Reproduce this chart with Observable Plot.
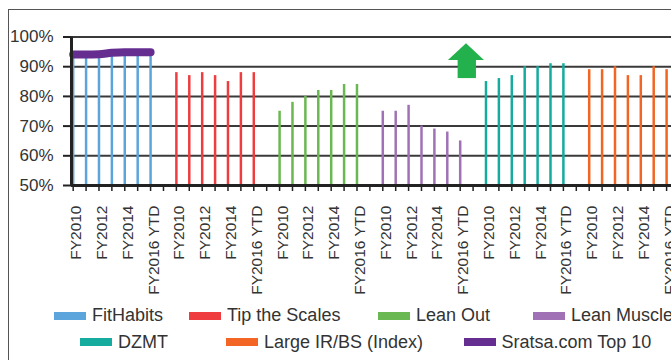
<!DOCTYPE html>
<html>
<head>
<meta charset="utf-8">
<script src="https://cdn.jsdelivr.net/npm/d3@7"></script>
<script src="https://cdn.jsdelivr.net/npm/@observablehq/plot@0.6"></script>
<style>
  html, body { margin: 0; padding: 0; background: #fff; overflow: hidden; }
  body { width: 671px; height: 360px; position: relative; font-family: "Liberation Sans", Arial, sans-serif; }
  #frame { position: absolute; left: 8px; top: 9px; width: 800px; height: 400px;
           border-left: 1.5px solid #555; border-top: 1.5px solid #555; }
  #chart { position: absolute; left: 0; top: 0; }
  .leg { position: absolute; display: flex; align-items: center; font-size: 18px; color: #333; white-space: nowrap; }
  .sw { width: 32px; height: 8px; margin-right: 6px; }
</style>
</head>
<body>
<div id="frame"></div>
<div id="chart"></div>
<div id="legend"></div>
<script>
const years = ["FY2010", "FY2011", "FY2012", "FY2013", "FY2014", "FY2015", "FY2016 YTD"];
const seriesNames = ["FitHabits", "Tip the Scales", "Lean Out", "Lean Muscle", "DZMT", "Large IR/BS (Index)"];
const lineName = "Sratsa.com Top 10";

const fitHabits    = [93, 93, 93, 94, 94, 94, 94];
const tipTheScales = [88, 87, 88, 87, 85, 88, 88];
const leanOut      = [75, 78, 80, 82, 82, 84, 84];
const leanMuscle   = [75, 75, 77, 70, 69, 68, 65];
const dzmt         = [85, 86, 87, 90, 90, 91, 91];
const largeIRBS    = [89, 89, 90, 87, 87, 90, 89];
const sratsaTop10  = [94.1, 94.1, 94.2, 94.7, 94.9, 94.9, 94.9];

const yTicks = [50, 60, 70, 80, 90, 100];

const seriesColors = ["#5ba5dc", "#ef3d3f", "#6ab851", "#a072b5", "#15ac9f", "#f26524"];
const lineColor = "#662d91";
const arrowColor = "#22b14c";

// arrow annotation (in data units: slot index, percent)
const arrowHead = [
  {x: 29.09, y1: 92.1, y2: 92.1},
  {x: 30.49, y1: 92.1, y2: 97.7},
  {x: 31.88, y1: 92.1, y2: 92.1}
];
const arrowStem = [{x1: 29.84, x2: 31.26, y1: 86.0, y2: 92.2}];

const allSeries = [fitHabits, tipTheScales, leanOut, leanMuscle, dzmt, largeIRBS];
const slotsPerGroup = years.length + 1;
const bars = [];
allSeries.forEach((vals, g) => {
  vals.forEach((v, i) => bars.push({series: seriesNames[g], x: g * slotsPerGroup + i, value: v}));
});
const lineData = sratsaTop10.map((v, i) => ({x: i, y: v}));
const tickIdx = d3.range(0, seriesNames.length * slotsPerGroup - 1);
const tickLabel = (d) => {
  const i = d % slotsPerGroup;
  return (i < years.length && i % 2 === 0) ? years[i] : "";
};

const xLo = -0.13, xHi = 46.38;

const chart = Plot.plot({
  width: 671,
  height: 300,
  marginLeft: 71,
  marginRight: 0,
  marginTop: 36.5,
  marginBottom: 115,
  style: {fontFamily: "'Liberation Sans', Arial, sans-serif", background: "transparent", overflow: "visible", color: "#333"},
  x: {type: "linear", domain: [xLo, xHi]},
  y: {domain: [50, 100]},
  color: {domain: seriesNames, range: seriesColors},
  marks: [
    Plot.ruleY(yTicks.slice(1), {stroke: "#3a3a3a", strokeWidth: 2}),
    Plot.ruleX(bars, {x: "x", y1: 50, y2: "value", stroke: "series", strokeWidth: 2.5}),
    Plot.line(lineData, {x: "x", y: "y", stroke: lineColor, strokeWidth: 8, strokeLinecap: "round", strokeLinejoin: "round", curve: "monotone-x"}),
    Plot.rect(arrowStem, {x1: "x1", x2: "x2", y1: "y1", y2: "y2", fill: arrowColor}),
    Plot.areaY(arrowHead, {x: "x", y1: "y1", y2: "y2", fill: arrowColor}),
    Plot.axisY({ticks: yTicks, tickFormat: d => d + "%", tickSize: 8, tickPadding: 10, fontSize: 17, stroke: "#222", strokeWidth: 2, fill: "#333"}),
    Plot.axisX({ticks: tickIdx, tickFormat: tickLabel, tickSize: 6, tickPadding: 14, tickRotate: -90, fontSize: 15.5, stroke: "#222", strokeWidth: 1.5, fill: "#333"}),
    Plot.ruleX([xLo], {stroke: "#222", strokeWidth: 3}),
    Plot.ruleY([50], {stroke: "#222", strokeWidth: 3})
  ]
});
d3.select(chart).selectAll('g[aria-label="x-axis tick label"]').each(function () {
  const t = this.getAttribute("transform") || "";
  this.setAttribute("transform", "translate(3,0) " + t);
});
document.getElementById("chart").appendChild(chart);

// legend
const legendItems = [
  {name: seriesNames[0], color: seriesColors[0]},
  {name: seriesNames[1], color: seriesColors[1]},
  {name: seriesNames[2], color: seriesColors[2]},
  {name: seriesNames[3], color: seriesColors[3]},
  {name: seriesNames[4], color: seriesColors[4]},
  {name: seriesNames[5], color: seriesColors[5]},
  {name: lineName, color: lineColor}
];
const legendPos = [[54, 315.5], [189, 315.5], [378, 315.5], [533, 315.5], [80, 342.3], [226, 342.3], [463.5, 342.3]];
const legend = document.getElementById("legend");
legendItems.forEach((it, k) => {
  const el = document.createElement("div");
  el.className = "leg";
  el.style.left = legendPos[k][0] + "px";
  el.style.top = (legendPos[k][1] - 11) + "px";
  el.style.height = "22px";
  const sw = document.createElement("span");
  sw.className = "sw";
  sw.style.background = it.color;
  const tx = document.createElement("span");
  tx.textContent = it.name;
  el.appendChild(sw);
  el.appendChild(tx);
  legend.appendChild(el);
});
</script>
</body>
</html>
